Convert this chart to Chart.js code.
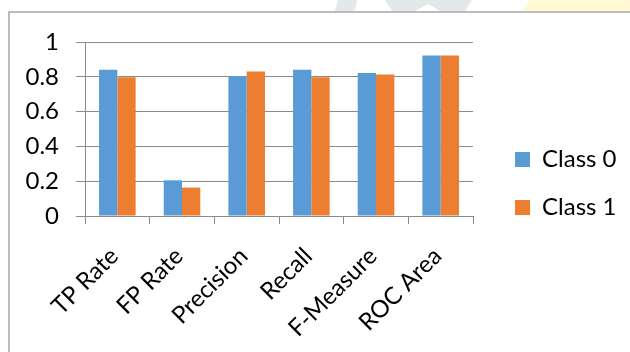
<!DOCTYPE html>
<html>
<head>
<meta charset="utf-8">
<script src="https://cdn.jsdelivr.net/npm/chart.js@4.4.1/dist/chart.umd.min.js"></script>
<style>
  html, body { margin: 0; padding: 0; background: #fff; }
  #wrap { position: relative; width: 630px; height: 352px; }
</style>
</head>
<body>
<div id="wrap"><canvas id="chart" width="630" height="352"></canvas></div>
<script>
const metrics = ['TP Rate', 'FP Rate', 'Precision', 'Recall', 'F-Measure', 'ROC Area'];
const class0 = [0.841, 0.205, 0.804, 0.841, 0.822, 0.923];
const class1 = [0.797, 0.163, 0.831, 0.797, 0.813, 0.923];
const yTicks = [0, 0.2, 0.4, 0.6, 0.8, 1];
const yTickLabels = ['0', '0.2', '0.4', '0.6', '0.8', '1'];

const GRID = '#8a8a8a';
const FONT = 'Lato, "Open Sans", sans-serif';

// outer frame of the chart object plus faint page marks above it
const framePlugin = {
  id: 'frame',
  beforeDraw(chart) {
    const ctx = chart.ctx;
    ctx.save();
    ctx.fillStyle = '#e3e8ea';
    ctx.beginPath();
    ctx.moveTo(338, 0); ctx.lineTo(357, 0); ctx.lineTo(355, 11); ctx.lineTo(335, 11);
    ctx.closePath(); ctx.fill();
    ctx.beginPath();
    ctx.moveTo(385, 0); ctx.lineTo(472, 0); ctx.lineTo(465, 11); ctx.lineTo(440, 11);
    ctx.lineTo(428, 4); ctx.lineTo(415, 11); ctx.lineTo(392, 11);
    ctx.closePath(); ctx.fill();
    ctx.fillStyle = '#fff8d2';
    ctx.beginPath();
    ctx.moveTo(530, 0); ctx.lineTo(630, 0); ctx.lineTo(630, 11); ctx.lineTo(522, 11);
    ctx.closePath(); ctx.fill();

    ctx.strokeStyle = '#a6a6a6';
    ctx.lineWidth = 1.5;
    ctx.beginPath();
    ctx.moveTo(9, 352); ctx.lineTo(9, 12); ctx.lineTo(630, 12);
    ctx.stroke();
    ctx.restore();
  },
  // legend keeps its slot in the layout but sits a bit further right and up
  afterLayout(chart) {
    const l = chart.legend;
    l.left += 18;
    l.right += 18;
    l.top -= 13.5;
    l.bottom -= 13.5;
  }
};

new Chart(document.getElementById('chart'), {
  type: 'bar',
  data: {
    labels: metrics,
    datasets: [
      { label: 'Class 0', data: class0, backgroundColor: '#5b9bd5' },
      { label: 'Class 1', data: class1, backgroundColor: '#ed7d31' }
    ]
  },
  options: {
    responsive: false,
    animation: false,
    events: [],
    datasets: { bar: { categoryPercentage: 0.566, barPercentage: 1 } },
    layout: { padding: { left: 9, top: 42, right: 21.5, bottom: 0 } },
    scales: {
      x: {
        grid: { display: true, drawOnChartArea: false, drawTicks: true, tickLength: 8, color: GRID, offset: true },
        border: { display: true, color: GRID, width: 1 },
        ticks: {
          color: '#000', font: { family: FONT, size: 24 },
          minRotation: 45, maxRotation: 45, padding: 18, labelOffset: -3, autoSkip: false
        },
        afterFit: s => { s.height = 136; }
      },
      y: {
        min: 0, max: 1,
        afterBuildTicks: s => { s.ticks = yTicks.map(v => ({ value: v })); },
        grid: { color: GRID, tickLength: 9, drawTicks: true },
        border: { display: true, color: GRID, width: 1 },
        ticks: {
          color: '#000', font: { family: FONT, size: 24 }, padding: 17,
          callback: (v, i) => yTickLabels[i]
        },
        afterFit: s => { s.width = 76; }
      }
    },
    plugins: {
      legend: {
        position: 'right',
        labels: { color: '#000', font: { family: FONT, size: 24 }, boxWidth: 15, boxHeight: 15, padding: 24 }
      },
      tooltip: { enabled: false }
    }
  },
  plugins: [framePlugin]
});
</script>
</body>
</html>
